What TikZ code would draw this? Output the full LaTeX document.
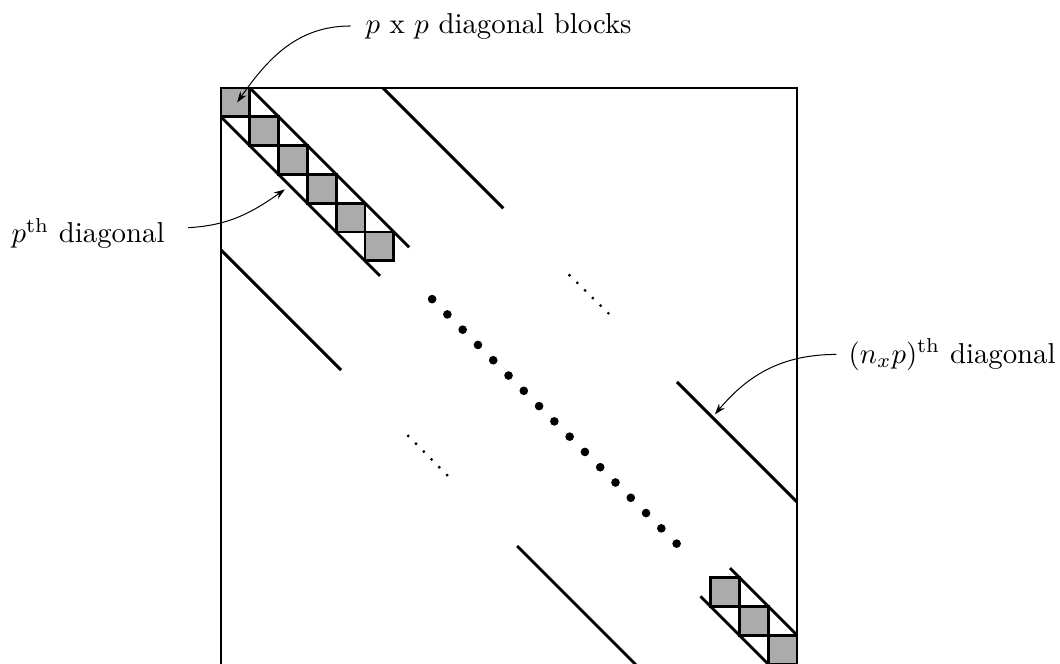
\documentclass[tikz,border=0pt]{standalone}
\usetikzlibrary{arrows.meta}
\begin{document}
\begin{tikzpicture}[x=10pt,y=10pt,
  frame/.style={line width=1pt},
  diag/.style={line width=1pt},
  blk/.style={line width=1pt,fill=black!33},
  lbl/.style={inner sep=0pt,font=\normalsize},
  pointer/.style={line width=0.35pt,-{Stealth[length=3.8pt,width=2.6pt]}},
  bigdot/.style={fill=black,circle,inner sep=0pt,minimum size=3pt},
  smalldot/.style={fill=black,circle,inner sep=0pt,minimum size=1.1pt}]
\useasboundingbox (-7.674,-19.97) rectangle (29.132,3.056);
% frame
\draw[frame] (0,-20) -- (0,0) -- (20,0) -- (20,-20);
% blocks
\foreach \i in {0,...,5} {\draw[blk] (\i,-\i) rectangle ++(1,-1);}
\foreach \i in {17,18,19} {\draw[blk] (\i,-\i) rectangle ++(1,-1);}
% band lines
\draw[diag] (1,0) -- (6.53,-5.53);
\draw[diag] (0,-1) -- (5.52,-6.52);
\draw[diag] (17.67,-16.67) -- (20,-19);
\draw[diag] (16.65,-17.65) -- (19,-20);
% n_x p diagonals
\draw[diag] (5.625,0) -- (9.8,-4.175);
\draw[diag] (15.83,-10.205) -- (20,-14.375);
\draw[diag] (0,-5.625) -- (4.17,-9.795);
\draw[diag] (10.28,-15.9) -- (14.4,-20.02);
% dots
\foreach \k in {0,...,16} {\node[bigdot] (bd\k) at ({7.33+0.5306*\k},{-7.33-0.5306*\k}) {};}
\foreach \k in {0,...,5} {\node[smalldot] (su\k) at ({12.1+0.27*\k},{-6.5-0.264*\k}) {};}
\foreach \k in {0,...,5} {\node[smalldot] (sl\k) at ({6.5+0.27*\k},{-12.08-0.272*\k}) {};}
% labels
\node[lbl,anchor=base west] (lblocks) at (5.0,1.91) {$p$ x $p$ diagonal blocks};
\node[lbl,anchor=base east] (lpth) at (-1.94,-5.37) {$p^{\mathrm{th}}$ diagonal};
\node[lbl,anchor=base west] (lnxp) at (21.77,-9.55) {$(n_xp)^{\mathrm{th}}$ diagonal};
\coordinate (tblocks) at (0.56,-0.5);
\coordinate (tpth) at (2.22,-3.52);
\coordinate (tnxp) at (17.15,-11.33);
\draw[pointer] ([xshift=-5pt]lblocks.west) to[out=180,in=55] (tblocks);
\draw[pointer] ([xshift=8pt,yshift=2pt]lpth.east) to[out=3,in=215] (tpth);
\draw[pointer] ([xshift=-4pt]lnxp.west) to[out=180,in=50] (tnxp);
\end{tikzpicture}
\end{document}
